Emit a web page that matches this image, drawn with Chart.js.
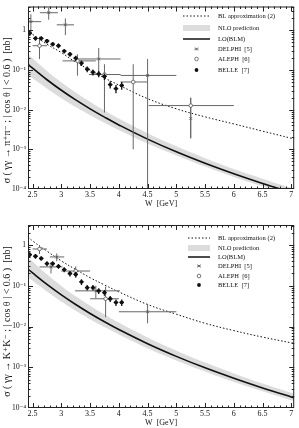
<!DOCTYPE html>
<html><head><meta charset="utf-8">
<script src="https://cdn.jsdelivr.net/npm/chart.js@4"></script>
<style>
body{margin:0;background:#fff;}
#w{position:relative;width:299px;height:428px;overflow:hidden;}
canvas{position:absolute;left:0;}
</style>
</head><body>
<div id="w">
<canvas id="c1" style="top:0px"></canvas>
<canvas id="c2" style="top:214px"></canvas>
</div>
<script>
// ---------- axis ticks ----------
const xTickVals = [2.5,3,3.5,4,4.5,5,5.5,6,6.5,7];
const xTickLabels = ['2.5','3','3.5','4','4.5','5','5.5','6','6.5','7'];
const yTickVals = [1e-4,1e-3,1e-2,1e-1,1];
const yTickLabels = ['10\u207B\u2074','10\u207B\u00B3','10\u207B\u00B2','10\u207B\u00B9','1'];

// ---------- theory curves (W in GeV, sigma in nb) ----------
const curveW   = [2.42,2.5,2.75,3,3.25,3.5,3.75,4,4.5,5,5.5,6,6.5,7,7.05];
const piLO     = [0.138,0.111,0.0569,0.0309,0.0176,0.0105,0.00649,0.00413,0.00181,0.000865,0.000445,0.000242,0.000138,0.000082,0.000078];
const piNLOhi  = [0.251,0.197,0.0944,0.049,0.0273,0.0159,0.0096,0.00597,0.00255,0.00119,0.0006,0.000318,0.000182,0.000106,0.000101];
const piNLOlo  = [0.0724,0.0624,0.0343,0.0195,0.01164,0.00728,0.0047,0.00306,0.0014,0.000703,0.00037,0.000201,0.000117,0.0000698,0.0000665];
const piBL     = [null,0.794,0.447,0.275,0.158,0.1,0.063,0.0417,0.019,0.0105,0.0066,0.00437,0.00288,0.0019,0.00182];

const kLO      = [0.257,0.206,0.1076,0.0597,0.0347,0.0209,0.0131,0.00843,0.00378,0.00185,0.000966,0.000536,0.00031,0.000187,0.000179];
const kNLOhi   = [0.513,0.393,0.191,0.0991,0.055,0.0324,0.0198,0.01247,0.00535,0.00255,0.0013,0.000706,0.0004,0.000236,0.000225];
const kNLOlo   = [0.162,0.133,0.0728,0.0413,0.0245,0.0151,0.0097,0.0064,0.00294,0.00147,0.000785,0.000436,0.000258,0.000156,0.000149];
const kBL      = [1.585,1.259,0.708,0.407,0.251,0.158,0.105,0.0708,0.0347,0.02,0.012,0.00794,0.0055,0.00398,0.00389];

// ---------- data: pi+ pi- ----------
const piBelleW  = [2.45,2.55,2.65,2.75,2.85,2.95,3.05,3.15,3.25,3.35,3.45,3.55,3.65,3.75,3.85,3.95,4.05];
const piBelleS  = [0.85,0.63,0.63,0.54,0.45,0.41,0.30,0.25,0.20,0.15,0.105,0.088,0.080,0.069,0.043,0.034,0.041];
const piBelleLo = [0.72,0.55,0.55,0.47,0.39,0.355,0.26,0.215,0.17,0.127,0.088,0.073,0.066,0.056,0.034,0.026,0.032];
const piBelleHi = [0.98,0.71,0.71,0.61,0.51,0.465,0.34,0.285,0.23,0.173,0.122,0.103,0.094,0.082,0.052,0.042,0.05];
const piBelleWlo= [2.41,2.51,2.61,2.71,2.81,2.91,3.01,3.11,3.21,3.31,3.41,3.51,3.61,3.71,3.81,3.91,4.01];
const piBelleWhi= [2.49,2.59,2.69,2.79,2.89,2.99,3.09,3.19,3.29,3.39,3.49,3.59,3.69,3.79,3.89,3.99,4.09];

const piDelW   = [2.47,2.78,3.07,3.65,4.5,5.25];
const piDelS   = [1.66,2.79,1.38,0.19,0.073,0.006];
const piDelLo  = [0.83,1.86,0.76,0.08,0.00005,0.0019];
const piDelHi  = [2.55,3.7,2.0,0.36,0.19,0.02];
const piDelWlo = [2.43,2.63,2.92,3.28,4.03,5.25];
const piDelWhi = [2.65,2.94,3.22,4.03,5.0,5.25];

const piAleW   = [2.62,3.28,3.75,4.25,5.25];
const piAleS   = [0.41,0.17,0.077,0.05,0.0127];
const piAleLo  = [0.19,0.072,0.0085,0.001,0.0019];
const piAleHi  = [0.69,0.25,0.14,0.14,0.02];
const piAleWlo = [2.5,3.02,3.48,4.03,4.52];
const piAleWhi = [2.75,3.6,4.03,4.5,6.0];

// ---------- data: K+ K- ----------
const kBelleW  = [2.45,2.55,2.65,2.75,2.85,2.95,3.05,3.15,3.25,3.35,3.45,3.55,3.65,3.75,3.85,3.95,4.05];
const kBelleS  = [0.58,0.53,0.47,0.35,0.35,0.30,0.25,0.20,0.19,0.125,0.09,0.09,0.075,0.068,0.048,0.039,0.039];
const kBelleLo = [0.50,0.46,0.41,0.30,0.30,0.26,0.215,0.17,0.16,0.105,0.076,0.076,0.063,0.057,0.04,0.032,0.032];
const kBelleHi = [0.66,0.60,0.53,0.40,0.40,0.34,0.285,0.23,0.22,0.145,0.104,0.104,0.087,0.079,0.056,0.046,0.046];
const kBelleWlo= [2.41,2.51,2.61,2.71,2.81,2.91,3.01,3.11,3.21,3.31,3.41,3.51,3.61,3.71,3.81,3.91,4.01];
const kBelleWhi= [2.49,2.59,2.69,2.79,2.89,2.99,3.09,3.19,3.29,3.39,3.49,3.59,3.69,3.79,3.89,3.99,4.09];

const kDelW   = [2.82,2.92,3.6,4.5];
const kDelS   = [0.29,0.51,0.075,0.023];
const kDelLo  = [0.2,0.4,0.05,0.012];
const kDelHi  = [0.38,0.62,0.1,0.036];
const kDelWlo = [2.62,2.8,3.24,4.0];
const kDelWhi = [3.02,3.05,4.02,5.0];

const kAleW   = [2.62,3.25,3.77];
const kAleS   = [0.8,0.23,0.048];
const kAleLo  = [0.6,0.16,0.017];
const kAleHi  = [1.0,0.3,0.095];
const kAleWlo = [2.5,3.0,3.5];
const kAleWhi = [2.75,3.5,4.0];

// ---------- helpers ----------
const pts = (xs, ys) => xs.map((x,i)=>({x:x,y:ys[i]})).filter(p=>p.y!==null);
const SERIF = '"Liberation Serif","DejaVu Serif",serif';
const GREY = '#dcdcdc';

const errorBars = {
  id:'errorBars',
  beforeDatasetDraw(chart, args){
    const ds = chart.data.datasets[args.index];
    if(!ds.err) return;
    const xs = chart.scales.x, ys = chart.scales.y, ctx = chart.ctx, a = chart.chartArea;
    const e = ds.err;
    ctx.save();
    ctx.beginPath(); ctx.rect(a.left,a.top,a.right-a.left,a.bottom-a.top); ctx.clip();
    ctx.strokeStyle = ds.errColor; ctx.lineWidth = ds.errWidth;
    for(let i=0;i<e.w.length;i++){
      const px = xs.getPixelForValue(e.w[i]), py = ys.getPixelForValue(e.s[i]);
      ctx.beginPath();
      ctx.moveTo(xs.getPixelForValue(e.wlo[i]),py); ctx.lineTo(xs.getPixelForValue(e.whi[i]),py);
      ctx.moveTo(px,ys.getPixelForValue(e.lo[i])); ctx.lineTo(px,ys.getPixelForValue(e.hi[i]));
      ctx.stroke();
    }
    ctx.restore();
  }
};

const frameTicks = {
  id:'frameTicks',
  afterDraw(chart){
    const xs = chart.scales.x, ys = chart.scales.y, ctx = chart.ctx, a = chart.chartArea;
    ctx.save();
    ctx.strokeStyle = '#222'; ctx.lineWidth = 1;
    ctx.strokeRect(a.left+0.5,a.top+0.5,a.right-a.left-1,a.bottom-a.top-1);
    ctx.beginPath();
    for(let k=24;k<=70;k++){
      const v = k/10; const px = Math.round(xs.getPixelForValue(v))+0.5;
      if(px<a.left+1||px>a.right-1) continue;
      const L = (k%5===0)?5:2.5;
      ctx.moveTo(px,a.bottom); ctx.lineTo(px,a.bottom-L);
      ctx.moveTo(px,a.top); ctx.lineTo(px,a.top+L);
    }
    for(let e=-4;e<=0;e++){
      for(let m=1;m<=9;m++){
        const v = m*Math.pow(10,e);
        if(v>ys.max) continue;
        const py = Math.round(ys.getPixelForValue(v))+0.5;
        if(py<a.top+1||py>a.bottom-1) continue;
        const L = (m===1)?5:2.5;
        ctx.moveTo(a.left,py); ctx.lineTo(a.left+L,py);
        ctx.moveTo(a.right,py); ctx.lineTo(a.right-L,py);
      }
    }
    ctx.stroke();
    ctx.restore();
  }
};

const legendBox = {
  id:'legendBox',
  afterDraw(chart){
    const o = chart.options.plugins.legendBox;
    const ctx = chart.ctx;
    ctx.save();
    ctx.font = '6.5px ' + SERIF;
    ctx.fillStyle = '#111'; ctx.textBaseline = 'middle'; ctx.textAlign = 'left';
    const x0 = o.x0, x1 = o.x1, tx = o.tx, xm = (x0+x1)/2;
    o.rows.forEach((y,i)=>{
      const it = o.items[i];
      ctx.save();
      if(it.kind==='dot'){ ctx.strokeStyle='#111'; ctx.lineWidth=1; ctx.setLineDash([1.5,2]); ctx.beginPath(); ctx.moveTo(x0,y); ctx.lineTo(x1,y); ctx.stroke(); }
      if(it.kind==='band'){ ctx.fillStyle=GREY; ctx.fillRect(x0,y-3,x1-x0,6); }
      if(it.kind==='line'){ ctx.strokeStyle='#111'; ctx.lineWidth=1.5; ctx.beginPath(); ctx.moveTo(x0,y); ctx.lineTo(x1,y); ctx.stroke(); }
      if(it.kind==='star'){ ctx.strokeStyle='#555'; ctx.lineWidth=0.8; ctx.beginPath(); ctx.moveTo(xm-1.5,y-1.5); ctx.lineTo(xm+1.5,y+1.5); ctx.moveTo(xm-1.5,y+1.5); ctx.lineTo(xm+1.5,y-1.5); ctx.moveTo(xm-2,y); ctx.lineTo(xm+2,y); ctx.stroke(); }
      if(it.kind==='open'){ ctx.strokeStyle='#555'; ctx.fillStyle='#fff'; ctx.lineWidth=0.8; ctx.beginPath(); ctx.arc(xm,y,1.8,0,Math.PI*2); ctx.fill(); ctx.stroke(); }
      if(it.kind==='fill'){ ctx.fillStyle='#111'; ctx.beginPath(); ctx.arc(xm,y,1.9,0,Math.PI*2); ctx.fill(); }
      ctx.restore();
      ctx.fillText(it.text, tx, y);
    });
    ctx.restore();
  }
};

const legendItems = [
  {kind:'dot', text:'BL approximation (2)'},
  {kind:'band', text:'NLO prediction'},
  {kind:'line', text:'LO(BLM)'},
  {kind:'star', text:'DELPHI  [5]'},
  {kind:'open', text:'ALEPH  [6]'},
  {kind:'fill', text:'BELLE  [7]'}
];

function makeChart(id, cfg){
  const cv = document.getElementById(id);
  cv.width = 299; cv.height = 214;
  const line = (data, extra) => Object.assign({type:'line', data:data, pointRadius:0, borderWidth:0, tension:0.4, fill:false}, extra);
  const datasets = [
    line(pts(cfg.w, cfg.nhi), {backgroundColor:GREY, borderColor:GREY, fill:'+1', order:6}),
    line(pts(cfg.w, cfg.nlo), {backgroundColor:GREY, borderColor:GREY, order:7}),
    line(pts(cfg.w, cfg.bl), {borderColor:'#111', borderWidth:1, borderDash:[1.5,2], order:5}),
    line(pts(cfg.w, cfg.lo), {borderColor:'#111', borderWidth:1.6, order:4}),
    {type:'scatter', data:pts(cfg.del.w,cfg.del.s), pointStyle:'crossRot', pointRadius:2, borderColor:'#555', borderWidth:0.8, backgroundColor:'#555', order:3,
      err:cfg.del, errColor:'#666', errWidth:1},
    {type:'scatter', data:pts(cfg.ale.w,cfg.ale.s), pointStyle:'circle', pointRadius:1.8, borderColor:'#555', borderWidth:0.8, backgroundColor:'#fff', order:2,
      err:cfg.ale, errColor:'#666', errWidth:1},
    {type:'scatter', data:pts(cfg.bel.w,cfg.bel.s), pointStyle:'circle', pointRadius:1.9, borderColor:'#111', borderWidth:0, backgroundColor:'#111', order:1,
      err:cfg.bel, errColor:'#111', errWidth:1.3}
  ];
  return new Chart(cv, {
    data:{datasets:datasets},
    options:{
      responsive:false, animation:false, devicePixelRatio:1,
      layout:{padding:{left:0,right:2,top:cfg.top,bottom:cfg.bot}},
      plugins:{legend:{display:false}, tooltip:{enabled:false},
        legendBox:{x0:cfg.lx0, x1:210, tx:218, rows:cfg.rows, items:legendItems}},
      scales:{
        x:{type:'linear', min:2.42, max:7.05,
          afterBuildTicks:(s)=>{ s.ticks = xTickVals.map(v=>({value:v})); },
          afterFit:(s)=>{ s.height = 20; },
          ticks:{autoSkip:false, maxRotation:0, padding:1, color:'#111', font:{family:SERIF,size:8},
            callback:(v)=>{ const i = xTickVals.indexOf(v); return i>=0?xTickLabels[i]:''; }},
          grid:{display:false, drawTicks:false, tickLength:0}, border:{display:false},
          title:{display:true, text:'W  [GeV]', color:'#111', font:{family:SERIF,size:8}, padding:{top:0,bottom:0}}
        },
        y:{type:'logarithmic', min:1e-4, max:cfg.ymax,
          afterBuildTicks:(s)=>{ s.ticks = yTickVals.map(v=>({value:v})); },
          afterFit:(s)=>{ s.width = 28; },
          ticks:{autoSkip:false, padding:2, color:'#111', font:{family:SERIF,size:7.5},
            callback:(v)=>{ const i = yTickVals.indexOf(v); return i>=0?yTickLabels[i]:''; }},
          grid:{display:false, drawTicks:false, tickLength:0}, border:{display:false},
          title:{display:true, text:cfg.ytitle, color:'#111', font:{family:SERIF,size:10}, padding:{top:1,bottom:0}}
        }
      }
    },
    plugins:[errorBars, frameTicks, legendBox]
  });
}

makeChart('c1', {
  w:curveW, lo:piLO, nhi:piNLOhi, nlo:piNLOlo, bl:piBL, ymax:4, top:1, bot:5,
  del:{w:piDelW,s:piDelS,lo:piDelLo,hi:piDelHi,wlo:piDelWlo,whi:piDelWhi},
  ale:{w:piAleW,s:piAleS,lo:piAleLo,hi:piAleHi,wlo:piAleWlo,whi:piAleWhi},
  bel:{w:piBelleW,s:piBelleS,lo:piBelleLo,hi:piBelleHi,wlo:piBelleWlo,whi:piBelleWhi},
  ytitle:'\u03C3 ( \u03B3\u03B3 \u2192 \u03C0\u207A\u03C0\u207B ; | cos \u03B8 | < 0.6 )  [nb]\u2002\u2002\u2002\u2002\u2002',
  lx0:183, rows:[16,28,39,49,59,70]
});
makeChart('c2', {
  w:curveW, lo:kLO, nhi:kNLOhi, nlo:kNLOlo, bl:kBL, ymax:3.1, top:11, bot:0,
  del:{w:kDelW,s:kDelS,lo:kDelLo,hi:kDelHi,wlo:kDelWlo,whi:kDelWhi},
  ale:{w:kAleW,s:kAleS,lo:kAleLo,hi:kAleHi,wlo:kAleWlo,whi:kAleWhi},
  bel:{w:kBelleW,s:kBelleS,lo:kBelleLo,hi:kBelleHi,wlo:kBelleWlo,whi:kBelleWhi},
  ytitle:'\u03C3 ( \u03B3\u03B3 \u2192 K\u207AK\u207B ; | cos \u03B8 | < 0.6 )  [nb]\u2002\u2002',
  lx0:188, rows:[24,34,43,52,62,71]
});
</script>
</body></html>
